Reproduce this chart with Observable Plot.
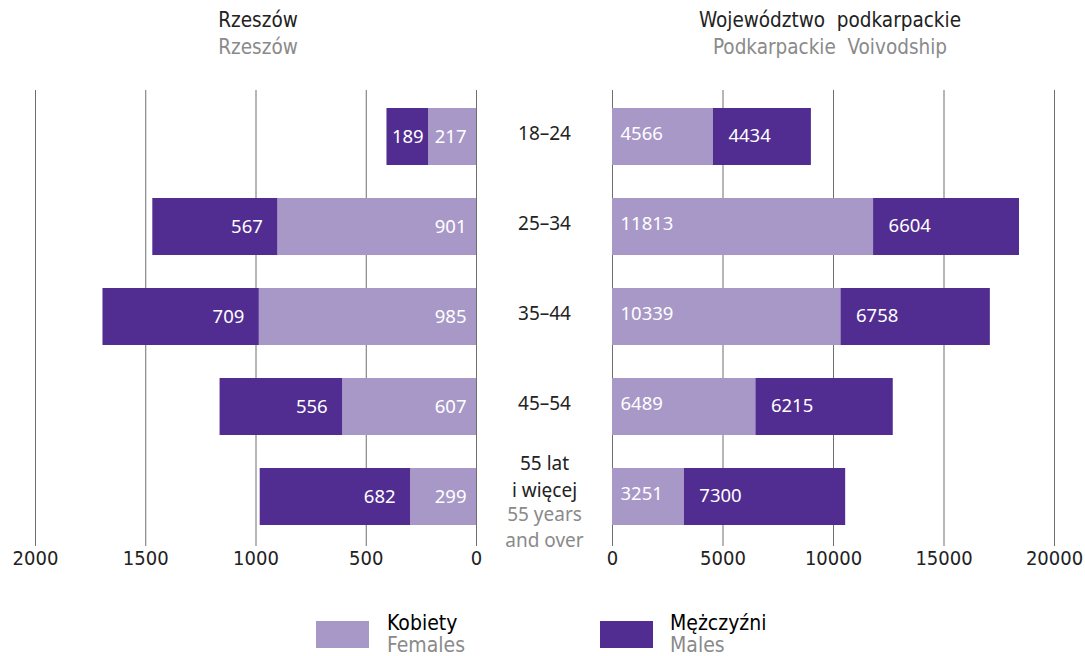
<!DOCTYPE html>
<html>
<head>
<meta charset="utf-8">
<script src="https://cdn.jsdelivr.net/npm/d3@7"></script>
<script src="https://cdn.jsdelivr.net/npm/@observablehq/plot@0.6"></script>
<style>
  body { margin: 0; background: #fff; }
  #wrap { position: relative; width: 1085px; height: 656px; overflow: hidden; font-family: "Noto Sans", "Open Sans", sans-serif; }
  .abs { position: absolute; }
  .cond { font-family: "Liberation Sans Narrow", "DejaVu Sans Condensed", "Roboto", sans-serif; }
  .t { font-size: 20.5px; color: #222; transform: translateX(-50%); white-space: nowrap; }
  .g { color: #8a8a8a; }
  .sw { width: 53px; height: 27px; }
  .lg { font-size: 21px; line-height: 22px; white-space: nowrap; }
</style>
</head>
<body>
<div id="wrap">
  <div class="abs t cond" style="left:258px; top:8px;">Rzeszów</div>
  <div class="abs t cond g" style="left:258px; top:35px;">Rzeszów</div>
  <div class="abs t cond" style="left:830px; top:8px;">Województwo&nbsp; podkarpackie</div>
  <div class="abs t cond g" style="left:830px; top:35px;">Podkarpackie&nbsp; Voivodship</div>
  <div id="left" class="abs" style="left:0; top:60px;"></div>
  <div id="right" class="abs" style="left:580px; top:60px;"></div>
  <div class="abs sw" style="left:316px; top:621px; background:#a898c7;"></div>
  <div class="abs lg cond" style="left:387px; top:612px;">Kobiety<br><span class="g">Females</span></div>
  <div class="abs sw" style="left:600px; top:621px; background:#522d91;"></div>
  <div class="abs lg cond" style="left:670px; top:612px;">Mężczyźni<br><span class="g">Males</span></div>
</div>
<script>
const ages = ["18–24", "25–34", "35–44", "45–54", "55+"];
const ageLabelsPl = ["18–24", "25–34", "35–44", "45–54", "55 lat\ni więcej"];
const ageLabelsEn = ["", "", "", "", "55 years\nand over"];
const rzeszowFemales = [217, 901, 985, 607, 299];
const rzeszowMales = [189, 567, 709, 556, 682];
const podkFemales = [4566, 11813, 10339, 6489, 3251];
const podkMales = [4434, 6604, 6758, 6215, 7300];
const ticksLeft = [0, 500, 1000, 1500, 2000];
const ticksRight = [0, 5000, 10000, 15000, 20000];

const FEM = "#a898c7", MAL = "#522d91";
const condFont = '"Liberation Sans Narrow", "DejaVu Sans Condensed", Roboto, sans-serif';

function rows(f, m) {
  const fem = ages.map((a, i) => ({age: a, sex: "F", x1: 0, x2: f[i], v: f[i]}));
  const mal = ages.map((a, i) => ({age: a, sex: "M", x1: f[i], x2: f[i] + m[i], v: m[i]}));
  return {fem, mal, all: fem.concat(mal)};
}

const H = 523, MT = 30, MB = 40;
const yOpts = {domain: ages, paddingInner: 0.37, paddingOuter: 0.19, axis: null};
const style = {fontFamily: '"Noto Sans", "Open Sans", sans-serif', fontSize: "17px", overflow: "visible", background: "transparent"};

const L = rows(rzeszowFemales, rzeszowMales);
const plPl = ages.slice(0, 4).map((a, i) => ({age: a, t: ageLabelsPl[i]}));
const lastPl = [{age: ages[4], t: ageLabelsPl[4]}];
const lastEn = [{age: ages[4], t: ageLabelsEn[4]}];
const left = Plot.plot({
  width: 612, height: H, marginLeft: 35, marginRight: 136, marginTop: MT, marginBottom: MB,
  style,
  x: {domain: [0, 2000], reverse: true, axis: null},
  y: yOpts,
  marks: [
    Plot.ruleX(ticksLeft, {stroke: "#6f6f6f", strokeWidth: 1, insetBottom: -3}),
    Plot.barX(L.all, {y: "age", x1: "x1", x2: "x2", fill: d => d.sex === "F" ? FEM : MAL}),
    Plot.text(L.fem, {y: "age", x: "x1", text: d => String(d.v), textAnchor: "end", dx: -10, fill: "white", fontSize: 18.5}),
    Plot.text(L.mal.slice(1), {y: "age", x: "x1", text: d => String(d.v), textAnchor: "end", dx: -15, fill: "white", fontSize: 18.5}),
    Plot.text(L.mal.slice(0, 1), {y: "age", x: "x1", text: d => String(d.v), textAnchor: "end", dx: -5, fill: "white", fontSize: 18.5}),
    Plot.axisX({ticks: ticksLeft, tickSize: 0, tickPadding: 7, fontSize: 20, fontFamily: condFont, fill: "#222", tickFormat: d => String(d)}),
    Plot.text(plPl, {y: "age", x: 0, dx: 68, dy: -3, text: "t", fill: "#222", fontSize: 19}),
    Plot.text(lastPl, {y: "age", x: 0, dx: 68, text: "t", fill: "#222", fontSize: 19, lineAnchor: "bottom", lineHeight: 1.42, dy: 0}),
    Plot.text(lastEn, {y: "age", x: 0, dx: 68, text: "t", fill: "#8a8a8a", fontSize: 19, lineAnchor: "top", lineHeight: 1.35, dy: 6})
  ]
});
document.getElementById("left").appendChild(left);

const R = rows(podkFemales, podkMales);
const right = Plot.plot({
  width: 505, height: H, marginLeft: 32, marginRight: 31, marginTop: MT, marginBottom: MB,
  style,
  x: {domain: [0, 20000], axis: null},
  y: yOpts,
  marks: [
    Plot.ruleX(ticksRight, {stroke: "#6f6f6f", strokeWidth: 1, insetBottom: -3}),
    Plot.barX(R.all, {y: "age", x1: "x1", x2: "x2", fill: d => d.sex === "F" ? FEM : MAL}),
    Plot.text(R.fem, {y: "age", x: "x1", text: d => String(d.v), textAnchor: "start", dx: 8, dy: -3, fill: "white", fontSize: 18.5}),
    Plot.text(R.mal, {y: "age", x: "x1", text: d => String(d.v), textAnchor: "start", dx: 15, dy: -1, fill: "white", fontSize: 18.5}),
    Plot.axisX({ticks: ticksRight, tickSize: 0, tickPadding: 7, fontSize: 20, fontFamily: condFont, fill: "#222", tickFormat: d => String(d)})
  ]
});
document.getElementById("right").appendChild(right);
</script>
</body>
</html>
